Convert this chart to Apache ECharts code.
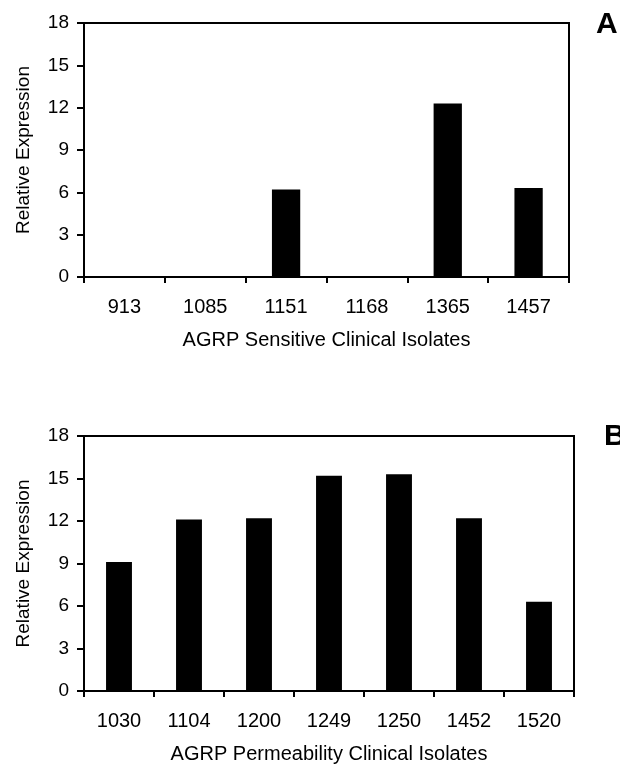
<!DOCTYPE html>
<html style="height: 100%">
<head>
    <meta charset="utf-8">
</head>
<body style="height: 100%; margin: 0; background: #fff">
<div id="chart_container" style="height: 765px; width: 620px"></div>
<script src="https://cdn.jsdelivr.net/npm/echarts@6/dist/echarts.min.js"></script>
<script type="text/javascript">
    // panel A - sensitive isolates
    var sensitiveIsolates = ['913', '1085', '1151', '1168', '1365', '1457'];
    var sensitiveValues = [0, 0, 6.2, 0, 12.3, 6.3];
    // panel B - permeability isolates
    var permeabilityIsolates = ['1030', '1104', '1200', '1249', '1250', '1452', '1520'];
    var permeabilityValues = [9.1, 12.1, 12.2, 15.2, 15.3, 12.2, 6.3];

    var yTicks = [0, 18, 3]; // min, max, interval

    var chart = echarts.init(document.getElementById('chart_container'));
    var font = 'Liberation Sans, Arial, sans-serif';
    var ink = '#000';

    function xAxisFor(cats, idx, title) {
        return {
            type: 'category',
            gridIndex: idx,
            data: cats,
            boundaryGap: true,
            axisLine: { show: true, lineStyle: { color: ink, width: 2 } },
            axisTick: { show: true, length: 6, lineStyle: { color: ink, width: 2 } },
            axisLabel: { margin: 20, color: ink, fontSize: 20, fontFamily: font },
            name: title,
            nameLocation: 'middle',
            nameGap: 53,
            nameTextStyle: { color: ink, fontSize: 20, fontFamily: font }
        };
    }

    function yAxisFor(idx) {
        return {
            type: 'value',
            gridIndex: idx,
            min: yTicks[0],
            max: yTicks[1],
            interval: yTicks[2],
            splitLine: { show: false },
            axisLine: { show: true, lineStyle: { color: ink, width: 2 } },
            axisTick: { show: true, length: 7, lineStyle: { color: ink, width: 2 } },
            axisLabel: { margin: 15, color: ink, fontSize: 19, fontFamily: font },
            name: 'Relative Expression',
            nameLocation: 'middle',
            nameGap: 51,
            nameTextStyle: { color: ink, fontSize: 19, fontFamily: font }
        };
    }

    var option = {
        backgroundColor: '#fff',
        animation: false,
        grid: [
            { left: 84, top: 23, width: 485, height: 254, show: true, borderColor: ink, borderWidth: 2, backgroundColor: 'transparent' },
            { left: 84, top: 436, width: 490, height: 255, show: true, borderColor: ink, borderWidth: 2, backgroundColor: 'transparent' }
        ],
        xAxis: [
            xAxisFor(sensitiveIsolates, 0, 'AGRP Sensitive Clinical Isolates'),
            xAxisFor(permeabilityIsolates, 1, 'AGRP Permeability Clinical Isolates')
        ],
        yAxis: [yAxisFor(0), yAxisFor(1)],
        series: [
            {
                type: 'bar',
                xAxisIndex: 0,
                yAxisIndex: 0,
                data: sensitiveValues,
                barWidth: '35%',
                itemStyle: { color: ink }
            },
            {
                type: 'bar',
                xAxisIndex: 1,
                yAxisIndex: 1,
                data: permeabilityValues,
                barWidth: '37%',
                itemStyle: { color: ink }
            }
        ],
        graphic: [
            { type: 'text', left: 596, top: 10, style: { text: 'A', fill: ink, fontSize: 30, fontWeight: 'bold', fontFamily: font } },
            { type: 'text', left: 604, top: 422, style: { text: 'B', fill: ink, fontSize: 30, fontWeight: 'bold', fontFamily: font } }
        ]
    };

    chart.setOption(option);
</script>
</body>
</html>
